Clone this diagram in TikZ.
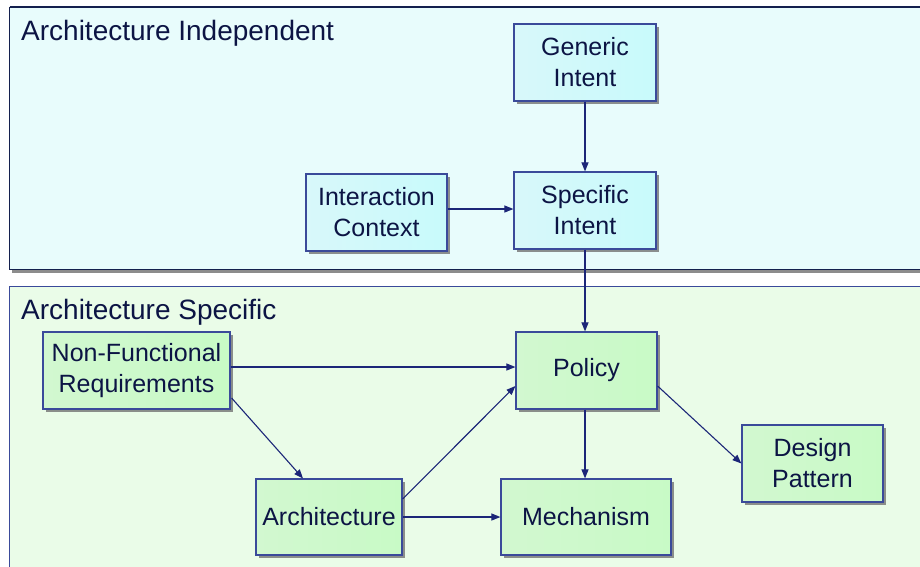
\documentclass[tikz,border=0pt]{standalone}
\usepackage{fontspec}
\setmainfont{Liberation Sans}
\usetikzlibrary{arrows.meta,shadows,calc}

\definecolor{ink}{HTML}{0C1444}
\definecolor{edge}{HTML}{3A4A9A}
\definecolor{wire}{HTML}{1C2678}
\definecolor{frame}{HTML}{14204E}
\definecolor{cyanA}{HTML}{D8F8FA}
\definecolor{cyanB}{HTML}{ECFCFD}
\definecolor{cyanC}{HTML}{C8FAFB}
\definecolor{greenA}{HTML}{D2F8D0}
\definecolor{greenB}{HTML}{EEFCEC}
\definecolor{greenC}{HTML}{C8FAC6}
\definecolor{paneCyanA}{HTML}{E8FCFC}
\definecolor{paneCyanB}{HTML}{F6FEFE}
\definecolor{paneGreenA}{HTML}{EAFCE8}
\definecolor{paneGreenB}{HTML}{F8FEF8}

\tikzset{
  box/.style={draw=edge, line width=1.2pt, text=ink, align=center,
    font=\fontsize{25}{31}\selectfont, inner sep=0pt,
    drop shadow={shadow xshift=3pt, shadow yshift=-3pt, fill=black!55, opacity=0.8}},
  intent/.style={box, left color=cyanA, middle color=cyanB, right color=cyanC},
  spec/.style={box, left color=greenA, middle color=greenB, right color=greenC},
  pane/.style={draw=frame, line width=0.9pt},
  panetitle/.style={anchor=base west, text=ink, font=\fontsize{28}{32}\selectfont, inner sep=0pt},
  flow/.style={draw=wire, line width=1.1pt, -{Triangle[length=9pt,width=7pt]}}
}

\begin{document}
\begin{tikzpicture}[x=1pt,y=-1pt]
  \useasboundingbox (0,0) rectangle (920,566);
  \fill[white] (0,0) rectangle (920,566);

  % upper pane: architecture independent
  \fill[black!45] (12,270) rectangle (925,273);
  \path[pane, left color=paneCyanA, middle color=paneCyanB, right color=paneCyanA]
    (9.5,7) rectangle (925,269.5);
  \draw[frame, line width=1.8pt] (9.5,7) -- (925,7);
  \node[panetitle] (titleA) at (21,40.5) {Architecture Independent};

  % lower pane: architecture specific
  \path[pane, draw=edge, left color=paneGreenA, middle color=paneGreenB, right color=paneGreenA]
    (9.5,286) rectangle (925,575);
  \node[panetitle] (titleB) at (21,319) {Architecture Specific};

  % boxes
  \node[intent, minimum width=142pt, minimum height=77pt] (generic) at (585,62.5) {Generic\\Intent};
  \node[intent, minimum width=142pt, minimum height=77pt] (specific) at (585,210.5) {Specific\\Intent};
  \node[intent, minimum width=141pt, minimum height=77pt] (context) at (376.5,212.5) {Interaction\\Context};

  \node[spec, minimum width=187pt, minimum height=77pt] (nfr) at (136.5,370.5) {Non-Functional\\Requirements};
  \node[spec, minimum width=141pt, minimum height=77pt] (policy) at (586.5,370.5) {Policy};
  \node[spec, minimum width=146pt, minimum height=76pt] (arch) at (329,517) {Architecture};
  \node[spec, minimum width=170pt, minimum height=76pt] (mech) at (586,517) {Mechanism};
  \node[spec, minimum width=141pt, minimum height=77pt] (pattern) at (812.5,463.5) {Design\\Pattern};

  % connectors
  \draw[flow] (generic.south) -- (specific.north);
  \draw[flow] (context.east |- specific.west) ++(0,-1.5) -- ($(specific.west)+(0,-1.5)$);
  \draw[flow] (specific.south) -- (policy.north -| specific.south);
  \draw[flow] ($(nfr.east)+(0,-3.5)$) -- ($(policy.west)+(0,-3.5)$);
  \draw[flow] ($(nfr.east)+(1,27.5)$) -- ($(arch.north)+(-26,0)$);
  \draw[flow] ($(arch.east)+(0,-18)$) -- ($(policy.west)+(0,15.5)$);
  \draw[flow] (arch.east) -- (mech.west);
  \draw[flow] (policy.south -| specific.south) -- (mech.north -| specific.south);
  \draw[flow] ($(policy.east)+(0,15.5)$) -- (pattern.west);
\end{tikzpicture}
\end{document}
